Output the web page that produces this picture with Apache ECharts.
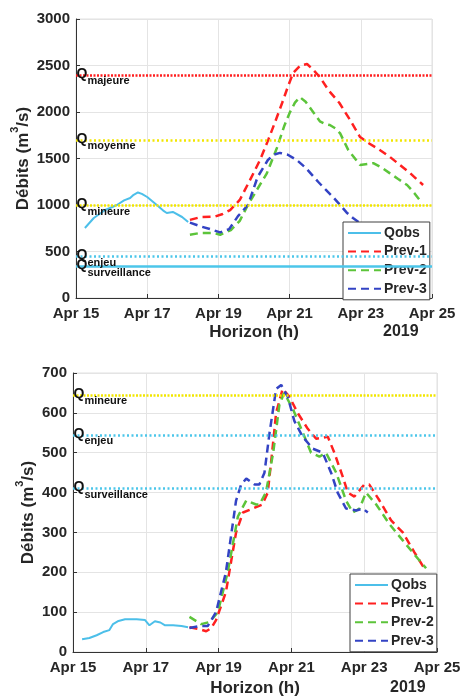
<!DOCTYPE html>
<html>
<head>
    <meta charset="UTF-8">
    <title>Débits - prévisions</title>
    <script src="https://cdn.jsdelivr.net/npm/echarts@6/dist/echarts.min.js"></script>
    <style>
        body { margin: 0; padding: 0; background: #fff; }
        #chart { width: 460px; height: 698px; }
    </style>
</head>
<body>
<div id="chart"></div>
<script>
// abscisse : jours depuis le 15 avril 2019
const xTicks = [0, 2, 4, 6, 8, 10];
const tickLabel = v => 'Apr ' + (15 + v);

// --- graphe du haut ---
const obsHaut = [[0.25,753],[0.5,860],[0.82,946],[1.15,1000],[1.35,1050],[1.52,1075],[1.62,1110],[1.74,1135],[1.85,1120],[2.0,1086],[2.27,1000],[2.45,940],[2.55,914],[2.72,925],[2.98,871],[3.15,817]];
const prev1Haut = [[3.2,840],[3.5,870],[3.9,875],[4.1,900],[4.33,946],[4.6,1054],[4.89,1270],[5.17,1484],[5.4,1700],[5.6,1900],[5.79,2097],[5.95,2270],[6.1,2420],[6.3,2500],[6.49,2516],[6.65,2460],[6.85,2376],[7.1,2230],[7.4,2097],[7.7,1914],[7.98,1731],[8.17,1677],[8.5,1600],[8.82,1516],[9.1,1430],[9.38,1344],[9.75,1215]];
const prev2Haut = [[3.2,680],[3.5,700],[3.85,700],[4.05,680],[4.35,730],[4.6,830],[4.8,980],[5.03,1130],[5.36,1340],[5.64,1610],[5.85,1850],[6.0,1990],[6.15,2100],[6.29,2160],[6.45,2110],[6.66,2000],[6.85,1900],[7.0,1870],[7.13,1860],[7.3,1820],[7.42,1770],[7.65,1590],[7.98,1430],[8.35,1450],[8.6,1400],[8.82,1340],[9.05,1280],[9.3,1215],[9.5,1130],[9.72,1020]];
const prev3Haut = [[3.2,810],[3.5,770],[3.76,742],[4.05,705],[4.3,740],[4.55,880],[4.83,1000],[5.1,1300],[5.39,1484],[5.55,1540],[5.73,1560],[5.95,1540],[6.2,1484],[6.45,1400],[6.8,1250],[7.0,1170],[7.22,1086],[7.42,1000],[7.6,920],[7.78,860],[8.0,800]];
const seuilsHaut = [
    { nom: 'majeure', val: 2400, color: '#ff1f1f', type: [2, 1.5] },
    { nom: 'moyenne', val: 1700, color: '#f2e600', type: [2, 2.5] },
    { nom: 'mineure', val: 1000, color: '#f2e600', type: [2, 1.5] },
    { nom: 'enjeu', val: 450, color: '#4cc6ea', type: [2, 2.5] },
    { nom: 'surveillance', val: 340, color: '#4cc6ea', type: 'solid' }
];

// --- graphe du bas ---
const obsBas = [[0.25,32],[0.45,35],[0.65,42],[0.83,50],[1.0,55],[1.1,70],[1.25,78],[1.43,82],[1.75,82],[1.98,80],[2.1,67],[2.25,77],[2.4,74],[2.53,67],[2.75,67],[2.98,65],[3.16,62]];
const prev1Bas = [[3.2,62],[3.45,58],[3.66,52],[3.8,60],[3.93,80],[4.2,150],[4.48,300],[4.67,350],[4.94,360],[5.2,370],[5.35,400],[5.47,500],[5.58,600],[5.76,660],[5.95,640],[6.17,600],[6.45,560],[6.68,535],[7.0,540],[7.18,500],[7.41,440],[7.55,400],[7.73,390],[8.0,420],[8.14,420],[8.42,380],[8.74,330],[9.06,300],[9.38,250],[9.65,210]];
const prev2Bas = [[3.2,88],[3.52,70],[3.75,75],[3.98,100],[4.25,200],[4.53,340],[4.76,380],[5.03,370],[5.12,370],[5.3,400],[5.5,500],[5.67,620],[5.8,650],[6.04,610],[6.27,560],[6.54,500],[6.77,490],[6.95,500],[7.23,450],[7.5,380],[7.69,350],[7.87,360],[8.05,400],[8.33,370],[8.7,320],[9.06,280],[9.33,250],[9.7,210]];
const prev3Bas = [[3.2,60],[3.47,65],[3.7,65],[3.93,100],[4.2,200],[4.48,380],[4.62,420],[4.76,435],[4.99,420],[5.12,420],[5.26,450],[5.4,550],[5.58,660],[5.72,670],[5.9,640],[6.08,580],[6.31,540],[6.59,510],[6.86,500],[7.09,450],[7.27,400],[7.5,360],[7.78,355],[7.96,360],[8.1,350]];
const seuilsBas = [
    { nom: 'mineure', val: 645, color: '#f2e600', type: [2, 1.5] },
    { nom: 'enjeu', val: 545, color: '#4cc6ea', type: [2, 2.5] },
    { nom: 'surveillance', val: 410, color: '#4cc6ea', type: [2, 2.5] }
];

const noms = ['Qobs', 'Prev-1', 'Prev-2', 'Prev-3'];
const couleurs = ['#4cbfe9', '#ff2020', '#5cc43a', '#3343c4'];
const txt = '#262626';
const font = 'Liberation Sans, Arial, sans-serif';

const chart = echarts.init(document.getElementById('chart'));

function axeX(grid) {
    return {
        type: 'value', gridIndex: grid, min: 0, max: 10, interval: 2,
        name: 'Horizon (h)', nameLocation: 'middle', nameGap: grid ? 28 : 26,
        nameTextStyle: { fontSize: 17, fontWeight: 'bold', color: txt, fontFamily: font },
        axisLine: { lineStyle: { color: '#333', width: 1 } },
        axisTick: { inside: true, length: 4, lineStyle: { color: '#333' } },
        axisLabel: { formatter: tickLabel, fontSize: 15, fontWeight: 'bold', color: txt, fontFamily: font, margin: 8 },
        splitLine: { show: true, lineStyle: { color: '#e4e4e4' } }
    };
}

function axeY(grid, max, interval) {
    return {
        type: 'value', gridIndex: grid, min: 0, max: max, interval: interval,
        name: '{a|Débits (m}{b|3}{a|/s)}', nameLocation: 'middle', nameGap: grid ? 42 : 50,
        nameMoveOverlap: false,
        nameTextStyle: {
            rich: {
                a: { fontSize: 17, fontWeight: 'bold', color: txt, fontFamily: font, lineHeight: 17, padding: [6, 0, 0, 0], verticalAlign: 'top' },
                b: { fontSize: 11, fontWeight: 'bold', color: txt, fontFamily: font, lineHeight: 11, verticalAlign: 'top' }
            }
        },
        axisLine: { show: true, lineStyle: { color: '#333', width: 1 } },
        axisTick: { show: true, inside: true, length: 4, lineStyle: { color: '#333' } },
        axisLabel: { formatter: v => String(v), fontSize: 15, fontWeight: 'bold', color: txt, fontFamily: font, margin: 6 },
        splitLine: { show: true, lineStyle: { color: '#e4e4e4' } }
    };
}

// lignes de seuil + étiquettes Q_xxx
function seuils(list) {
    return {
        markLine: {
            silent: true, symbol: ['none', 'none'], animation: false,
            label: { show: false },
            data: list.map(s => ({ yAxis: s.val, lineStyle: { color: s.color, type: s.type, width: 2.5 } }))
        },
        markPoint: {
            silent: true, animation: false,
            data: list.map(s => ({
                coord: [0, s.val], symbol: 'circle', symbolSize: 1,
                itemStyle: { color: 'rgba(0,0,0,0)' },
                label: {
                    show: true, position: 'right', distance: 0, offset: [0, -1],
                    formatter: '{q|Q}{s|' + s.nom + '}',
                    rich: {
                        q: { fontSize: 14, fontWeight: 'bold', color: '#111', fontFamily: font, lineHeight: 14, verticalAlign: 'top' },
                        s: { fontSize: 11, fontWeight: 'bold', color: '#111', fontFamily: font, lineHeight: 11, padding: [9, 0, 0, 0], verticalAlign: 'top' }
                    }
                }
            }))
        }
    };
}

function courbes(grid, obs, p1, p2, p3, listSeuils) {
    const data = [obs, p1, p2, p3];
    return data.map((d, i) => Object.assign({
        name: noms[i], type: 'line', xAxisIndex: grid, yAxisIndex: grid,
        data: d, symbol: 'none', smooth: false, z: 3,
        lineStyle: { color: couleurs[i], width: i === 0 ? 2 : 2.5, type: i === 0 ? 'solid' : [8, 5] },
        itemStyle: { color: couleurs[i] }
    }, i === 0 ? seuils(listSeuils) : {}));
}

function legende(left, top) {
    return {
        data: noms, orient: 'vertical', left: left, top: top,
        backgroundColor: '#fff', borderColor: '#404040', borderWidth: 1, borderRadius: 0,
        padding: [4, 3, 4, 4], itemGap: 4.6, itemWidth: 33, itemHeight: 14,
        itemStyle: { opacity: 0 },
        textStyle: { fontSize: 14, fontWeight: 'bold', color: txt, fontFamily: font, padding: [0, 0, 0, -2] },
        selectedMode: false
    };
}

chart.setOption({
    animation: false,
    grid: [
        { left: 76, right: 28, top: 19, height: 279, show: true, borderColor: '#e0e0e0', borderWidth: 1, outerBoundsMode: 'none' },
        { left: 73, right: 23, top: 373, height: 279, show: true, borderColor: '#e0e0e0', borderWidth: 1, outerBoundsMode: 'none' }
    ],
    xAxis: [axeX(0), axeX(1)],
    yAxis: [axeY(0, 3000, 500), axeY(1, 700, 100)],
    legend: [legende(343, 222), legende(350, 574)],
    graphic: [
        { type: 'text', left: 383, top: 324, style: { text: '2019', fontSize: 16, fontWeight: 'bold', fill: txt, fontFamily: font } },
        { type: 'text', left: 390, top: 680, style: { text: '2019', fontSize: 16, fontWeight: 'bold', fill: txt, fontFamily: font } }
    ],
    series: [].concat(
        courbes(0, obsHaut, prev1Haut, prev2Haut, prev3Haut, seuilsHaut),
        courbes(1, obsBas, prev1Bas, prev2Bas, prev3Bas, seuilsBas)
    )
});

window.addEventListener('resize', () => chart.resize());
</script>
</body>
</html>
